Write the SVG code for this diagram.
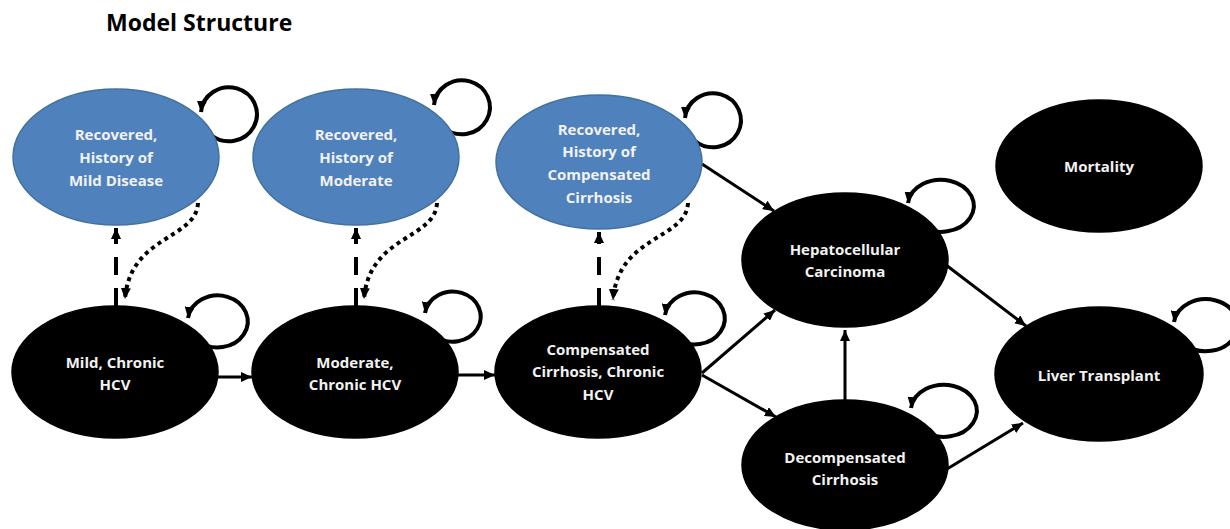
<svg xmlns="http://www.w3.org/2000/svg" width="1230" height="529" viewBox="0 0 1230 529">
<defs>
<marker id="ah" markerUnits="userSpaceOnUse" markerWidth="12" markerHeight="10" refX="11" refY="5" orient="auto">
<path d="M0,0 L11,5 L0,10 z" fill="#000"/>
</marker>
<style>
.blue{fill:#4f81bd;stroke:#41719c;stroke-width:1.5}
.dark{fill:#000;stroke:#000;stroke-width:1.5}
.lbl{font-family:"Open Sans","Liberation Sans",sans-serif;font-weight:bold;font-size:15px;fill:#f2f2f2;text-anchor:middle}
.c{fill:none;stroke:#000;stroke-width:3;marker-end:url(#ah)}
.loop{fill:none;stroke:#000;stroke-width:4;marker-end:url(#ah)}
.dash{fill:none;stroke:#000;stroke-width:4;stroke-dasharray:18 13;marker-end:url(#ah)}
.dot{fill:none;stroke:#000;stroke-width:4;stroke-dasharray:4 4;marker-end:url(#ah)}
</style>
</defs>
<rect width="1230" height="529" fill="#fff"/>
<text x="106" y="31" font-family="'Open Sans','Liberation Sans',sans-serif" font-weight="bold" font-size="23" fill="#000">Model Structure</text>

<g id="connectors">
<path class="loop" d="M211,135 A28,27 0 1 0 201,112"/>
<path class="loop" d="M444,128 A28,27 0 1 0 434,105"/>
<path class="loop" d="M695,141 A28,27 0 1 0 685,118"/>
<path class="loop" d="M198,341 A30,26 0 1 0 188,318"/>
<path class="loop" d="M435,336 A28,25 0 1 0 425,313"/>
<path class="loop" d="M675,338 A30,26 0 1 0 665,315"/>
<path class="loop" d="M920,226 A33,26 0 1 0 908,203"/>
<path class="loop" d="M923,431 A33,26 0 1 0 911,408"/>
<path class="loop" d="M1185,345 A32,26 0 1 0 1174,322"/>

<path class="c" d="M218,377 L252,377"/>
<path class="c" d="M458,375 L495,375"/>
<path class="c" d="M702,373 L775,310"/>
<path class="c" d="M702,375 L776,417"/>
<path class="c" d="M845,400 L845,330"/>
<path class="c" d="M702,164 L774,211"/>
<path class="c" d="M946,265 L1026,326"/>
<path class="c" d="M947,469 L1023,423"/>

<path class="dash" d="M116,306 L116,228"/>
<path class="dash" d="M356,306 L356,228"/>
<path class="dash" d="M599,306 L599,232"/>
<path class="dot" d="M198,203 C196,240 130,235 125,299"/>
<path class="dot" d="M437,203 C435,240 369,235 364,299"/>
<path class="dot" d="M688,203 C686,240 618,235 613,300"/>
</g>

<g id="rec-mild">
<ellipse class="blue" cx="116" cy="157" rx="103" ry="68"/>
<text class="lbl" x="116" y="140">Recovered,</text>
<text class="lbl" x="116" y="163">History of</text>
<text class="lbl" x="116" y="186">Mild Disease</text>
</g>
<g id="rec-moderate">
<ellipse class="blue" cx="356" cy="157" rx="103" ry="68"/>
<text class="lbl" x="356" y="140">Recovered,</text>
<text class="lbl" x="356" y="163">History of</text>
<text class="lbl" x="356" y="186">Moderate</text>
</g>
<g id="rec-cc">
<ellipse class="blue" cx="599" cy="162" rx="103" ry="67"/>
<text class="lbl" x="599" y="135">Recovered,</text>
<text class="lbl" x="599" y="157">History of</text>
<text class="lbl" x="599" y="180">Compensated</text>
<text class="lbl" x="599" y="203">Cirrhosis</text>
</g>
<g id="mortality">
<ellipse class="dark" cx="1099" cy="166" rx="103" ry="66"/>
<text class="lbl" x="1099" y="172">Mortality</text>
</g>
<g id="mild">
<ellipse class="dark" cx="115" cy="372" rx="103" ry="66"/>
<text class="lbl" x="115" y="368">Mild, Chronic</text>
<text class="lbl" x="115" y="390">HCV</text>
</g>
<g id="moderate">
<ellipse class="dark" cx="355" cy="372" rx="103" ry="66"/>
<text class="lbl" x="355" y="368">Moderate,</text>
<text class="lbl" x="355" y="390">Chronic HCV</text>
</g>
<g id="compensated">
<ellipse class="dark" cx="598" cy="372" rx="103" ry="66"/>
<text class="lbl" x="598" y="355">Compensated</text>
<text class="lbl" x="598" y="377">Cirrhosis, Chronic</text>
<text class="lbl" x="598" y="400">HCV</text>
</g>
<g id="hcc">
<ellipse class="dark" cx="845" cy="260" rx="103" ry="67"/>
<text class="lbl" x="845" y="255">Hepatocellular</text>
<text class="lbl" x="845" y="277">Carcinoma</text>
</g>
<g id="decompensated">
<ellipse class="dark" cx="845" cy="465" rx="103" ry="65"/>
<text class="lbl" x="845" y="463">Decompensated</text>
<text class="lbl" x="845" y="485">Cirrhosis</text>
</g>
<g id="liver-transplant">
<ellipse class="dark" cx="1099" cy="374" rx="104" ry="67"/>
<text class="lbl" x="1099" y="381">Liver Transplant</text>
</g>
</svg>
